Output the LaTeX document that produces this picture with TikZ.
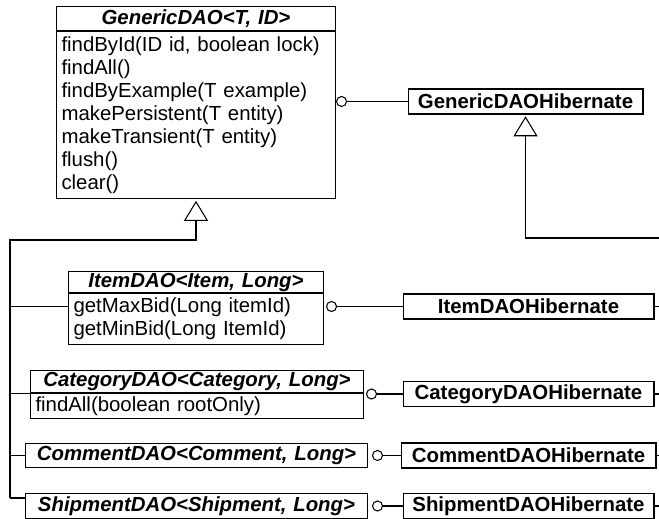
\documentclass[tikz,border=0pt]{standalone}
\usepackage{fontspec}
\setmainfont{Liberation Sans}
\usetikzlibrary{arrows.meta,positioning,calc}

\begin{document}
\begin{tikzpicture}[x=0.02cm,y=-0.02cm,font=\fontsize{11.6}{13.1}\selectfont,line width=0.6pt,
  classhead/.style={draw,anchor=north west,text width=#1,align=center,inner xsep=0.1cm,inner ysep=0pt,
    font=\fontsize{11.6}{13.1}\selectfont\bfseries\itshape},
  classops/.style={draw,text width=#1,align=left,inner xsep=0.1cm,inner ysep=0pt},
  hib/.style={draw,minimum height=0.5cm,inner sep=0pt,font=\fontsize{11.6}{13.1}\selectfont\bfseries},
  lolli/.style={draw,circle,minimum size=0.2cm,inner sep=0pt,anchor=west},
  branch/.style={line width=0.6pt},
  general/.style={line width=1.1pt,shorten >=1pt,-{Triangle[open,length=0.4cm,width=0.48cm,line width=0.6pt]}}]
  \useasboundingbox (0,0) rectangle (659,519);
  % generic dao and its hibernate implementation
  \node[classhead=5.38cm,minimum height=0.48cm] (genhead) at (56,6) {GenericDAO<T, ID>};
  \node[classops=5.38cm,minimum height=3.34cm,below=0pt of genhead] (genops)
    {findById(ID id, boolean lock)\\findAll()\\findByExample(T example)\\makePersistent(T entity)\\makeTransient(T entity)\\flush()\\clear()};
  \node[hib,minimum width=4.7cm] (genhib) at (525.5,101.5) {GenericDAOHibernate};
  \node[lolli] (genlol) at (genops.east |- genhib) {};
  \draw[branch] (genlol) -- (genhib);
  % item
  \node[classhead=4.9cm,minimum height=0.42cm] (itemhead) at (68,271) {ItemDAO<Item, Long>};
  \node[classops=4.9cm,minimum height=1.02cm,below=0pt of itemhead] (itemops)
    {getMaxBid(Long itemId)\\getMinBid(Long ItemId)};
  \node[hib,minimum width=5.02cm] (itemhib) at (528.5,306.5) {ItemDAOHibernate};
  \node[lolli,xshift=0.04cm] (itemlol) at (itemops.east |- itemhib) {};
  \draw[branch] (itemlol) -- (itemhib);
  % category
  \node[classhead=6.46cm,minimum height=0.44cm] (cathead) at (30,370) {CategoryDAO<Category, Long>};
  \node[classops=6.46cm,minimum height=0.5cm,below=0pt of cathead] (catops) {findAll(boolean rootOnly)};
  \node[hib,minimum width=5.02cm] (cathib) at (528.5,394) {CategoryDAOHibernate};
  \node[lolli,xshift=0.04cm] (catlol) at (catops.east |- cathib) {};
  \draw[branch] (catlol) -- (cathib);
  % comment
  \node[classhead=6.64cm,minimum height=0.48cm] (comment) at (25,443) {CommentDAO<Comment, Long>};
  \node[hib,minimum width=5.1cm] (comhib) at (528.5,455.5) {CommentDAOHibernate};
  \node[lolli,xshift=0.08cm] (comlol) at (comment.east |- comhib) {};
  \draw[branch] (comlol) -- (comhib);
  % shipment
  \node[classhead=6.64cm,minimum height=0.5cm] (ship) at (25,493) {ShipmentDAO<Shipment, Long>};
  \node[hib,minimum width=5.02cm] (shiphib) at (528.5,506) {ShipmentDAOHibernate};
  \node[lolli,xshift=0.08cm] (shiplol) at (ship.east |- shiphib) {};
  \draw[branch] (shiplol) -- (shiphib);
  % inheritance on the interface side
  \coordinate (trunk) at (10,240);
  \coordinate (trunkend) at (10,498);
  \draw[general] (trunkend) -- (trunk) -| (genops.south);
  \draw[branch] (trunk |- itemlol) -- (itemlol -| itemops.west);
  \draw[branch] (trunk |- cathead.south west) -- (cathead.south west);
  \draw[branch] (trunk |- comment.west) -- (comment.west);
  \draw[branch] (trunkend) -- (trunkend -| ship.west);
  % inheritance on the hibernate side
  \coordinate (hibtrunk) at (659,238);
  \draw[general] (hibtrunk) -| (genhib.south);
  \foreach \n in {itemhib,cathib,comhib,shiphib}
    \draw[branch] (\n.east) -- (\n.east -| hibtrunk);
\end{tikzpicture}
\end{document}
